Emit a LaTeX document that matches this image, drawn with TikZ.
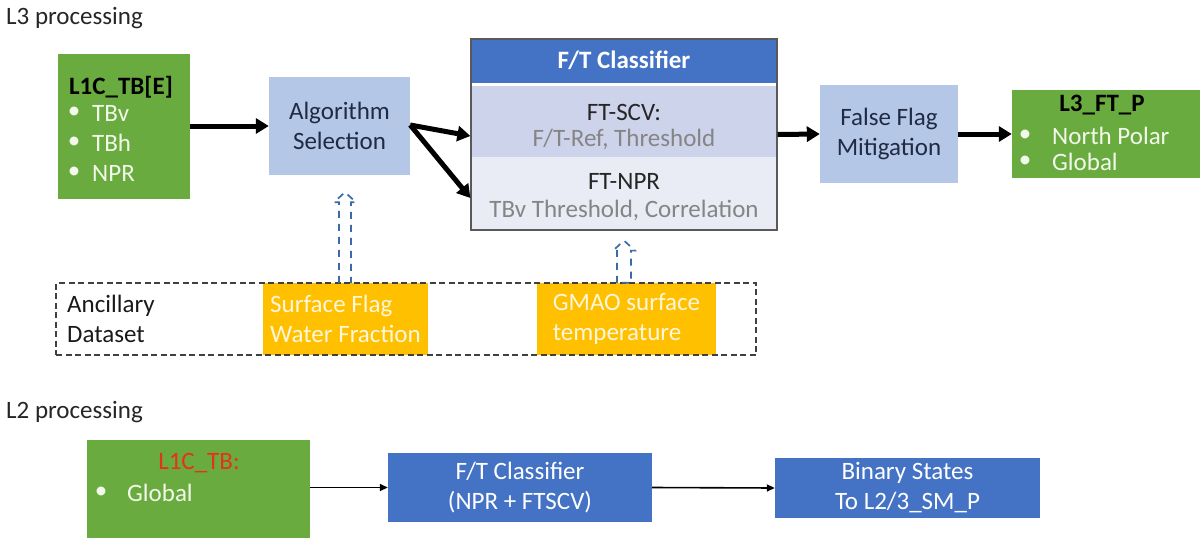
\documentclass[tikz,border=0pt]{standalone}
\usepackage{fontspec}
\setmainfont{Carlito}
\usetikzlibrary{arrows.meta,calc}
\definecolor{boxgreen}{HTML}{6AAB3F}
\definecolor{paleblue}{HTML}{B4C7E7}
\definecolor{midblue}{HTML}{4472C4}
\definecolor{ancorange}{HTML}{FFC000}
\definecolor{scvfill}{HTML}{CDD3EA}
\definecolor{nprfill}{HTML}{E9EBF5}
\definecolor{inktext}{HTML}{1F2A44}
\definecolor{softgray}{HTML}{858585}
\definecolor{dashblue}{HTML}{3A6AA8}
\definecolor{l1red}{HTML}{E8311A}
\definecolor{bullettext}{HTML}{F2F8EA}
\definecolor{orangetext}{HTML}{FFF6DC}

\tikzset{
  every node/.style={inner sep=0pt, font=\fontsize{25}{30}\selectfont},
  greenbox/.style={rectangle, fill=boxgreen},
  palebox/.style={rectangle, fill=paleblue, text=inktext, align=center},
  bluebox/.style={rectangle, fill=midblue, text=white, align=center},
  orangebox/.style={rectangle, fill=ancorange, text=orangetext, align=left},
  bigarrow/.style={line width=5pt, -{Triangle[length=13pt,width=15pt]}},
  thinarrow/.style={line width=1.6pt, -{Triangle[length=8pt,width=7pt]}},
  dasharrow/.style={draw=dashblue, line width=1.7pt, dash pattern=on 7pt off 6pt},
  lighttext/.style={text=bullettext},
}

\begin{document}
\begin{tikzpicture}[x=1pt,y=-1pt]
\useasboundingbox (0,0) rectangle (1202,538);

% ---------- L3 chain ----------
\node[anchor=west, text=black!85] (l3title) at (6,18) {L3 processing};

% input product
\node[greenbox, minimum width=132pt, minimum height=145pt] (l1e) at (124,126.5) {};
\node[font=\fontsize{25}{30}\selectfont\bfseries] (l1etitle) at (121,87) {L1C\_TB[E]};
\foreach \lbl/\yy/\nm in {TBv/113/a, TBh/143/b, NPR/173/c}{
  \node[lighttext, anchor=center] (l1ebul\nm) at (74,\yy) {•};
  \node[lighttext, anchor=west] (l1eitem\nm) at (92,\yy) {\lbl};
}

% algorithm selection
\node[palebox, minimum width=141pt, minimum height=98pt] (algo) at (339.5,126) {Algorithm\\Selection};

% classifier block
\node[rectangle, fill=midblue, minimum width=306pt, minimum height=44pt] (clfhead) at (624,61) {};
\node[rectangle, fill=scvfill, minimum width=306pt, minimum height=71pt] (clfscv) at (624,121.5) {};
\node[rectangle, fill=nprfill, minimum width=306pt, minimum height=73pt] (clfnpr) at (624,193.5) {};
\node[rectangle, draw=black!65, line width=1.2pt, minimum width=306pt, minimum height=191pt] (clf) at (624,134.5) {};
\node[text=white, font=\fontsize{25}{30}\selectfont\bfseries] (clfname) at (624,60) {F/T Classifier};
\node[text=black!85] (scvname) at (624,112) {FT-SCV:};
\node[text=softgray] (scvpar) at (624,139) {F/T-Ref, Threshold};
\node[text=black!85] (nprname) at (624,181) {FT-NPR};
\node[text=softgray] (nprpar) at (624,210) {TBv Threshold, Correlation};

% false flag mitigation
\node[palebox, minimum width=138pt, minimum height=98pt] (ffm) at (889,134) {False Flag\\Mitigation};

% output product
\node[greenbox, minimum width=188pt, minimum height=88pt] (l3out) at (1106,134) {};
\node[font=\fontsize{25}{30}\selectfont\bfseries] (l3outtitle) at (1102,105) {L3\_FT\_P};
\foreach \lbl/\yy/\nm in {North Polar/136/a, Global/162/b}{
  \node[lighttext, anchor=center] (l3bul\nm) at (1025,\yy) {•};
  \node[lighttext, anchor=west] (l3item\nm) at (1052,\yy) {\lbl};
}

% main flow
\coordinate (scvin) at ([yshift=-1pt]clf.west |- 0,135);
\coordinate (nprin) at (clf.west |- 0,198);
\draw[bigarrow] (l1e.east |- algo.east) -- (algo.west);
\draw[bigarrow] ([yshift=1pt]algo.east) -- (scvin);
\draw[bigarrow] ([yshift=1pt]algo.east) -- (nprin);
\draw[bigarrow] (clf.east) -- (ffm.west);
\draw[bigarrow] (ffm.east) -- (l3out.west);

% ancillary data
\node[orangebox, minimum width=165pt, minimum height=72pt] (surf) at (345.5,319) {Surface Flag\\Water Fraction};
\node[orangebox, minimum width=179pt, minimum height=72pt] (gmao) at (626.5,319) {GMAO surface\\temperature};
\node[rectangle, draw=black!75, line width=1.3pt, dash pattern=on 6pt off 3.5pt,
      minimum width=700pt, minimum height=72pt] (anc) at (406,319) {};
\node[anchor=west, align=left, text=black!90] (anclabel) at (67,319) {Ancillary\\Dataset};

% hollow dashed arrows feeding the ancillary data upward
\coordinate (a1b) at ([xshift=-0.5pt]surf.north);
\coordinate (a1t) at ([yshift=-17pt]a1b |- algo.south);
\draw[dasharrow] ([xshift=-6pt]a1b) -- ([xshift=-6pt,yshift=-10pt]a1t) -- ([xshift=-11pt,yshift=-10pt]a1t)
  -- (a1t) -- ([xshift=11pt,yshift=-10pt]a1t) -- ([xshift=6pt,yshift=-10pt]a1t) -- ([xshift=6pt]a1b);
\coordinate (a2b) at ([xshift=-2.5pt]gmao.north);
\coordinate (a2t) at ([yshift=-10pt]a2b |- clf.south);
\draw[dasharrow] ([xshift=-7pt]a2b) -- ([xshift=-7pt,yshift=-10pt]a2t) -- ([xshift=-11pt,yshift=-10pt]a2t)
  -- (a2t) -- ([xshift=11pt,yshift=-10pt]a2t) -- ([xshift=7pt,yshift=-10pt]a2t) -- ([xshift=7pt]a2b) -- cycle;

% ---------- L2 chain ----------
\node[anchor=west, text=black!85] (l2title) at (6,412) {L2 processing};

\node[greenbox, minimum width=223pt, minimum height=98pt] (l1c) at (198.5,489) {};
\node[text=l1red] (l1ctitle) at (199,463) {L1C\_TB:};
\node[lighttext] (l1cbul) at (101,493) {•};
\node[lighttext, anchor=west] (l1citem) at (127,493) {Global};

\node[bluebox, minimum width=264pt, minimum height=69pt] (l2clf) at (520,487.5) {F/T Classifier\\(NPR + FTSCV)};
\node[bluebox, minimum width=265pt, minimum height=60pt] (l2bin) at (907.5,488) {Binary States\\To L2/3\_SM\_P};

\draw[thinarrow] (l1c.east |- l2clf.west) -- (l2clf.west);
\draw[thinarrow] (l2clf.east) -- (l2bin.west);
\end{tikzpicture}
\end{document}
